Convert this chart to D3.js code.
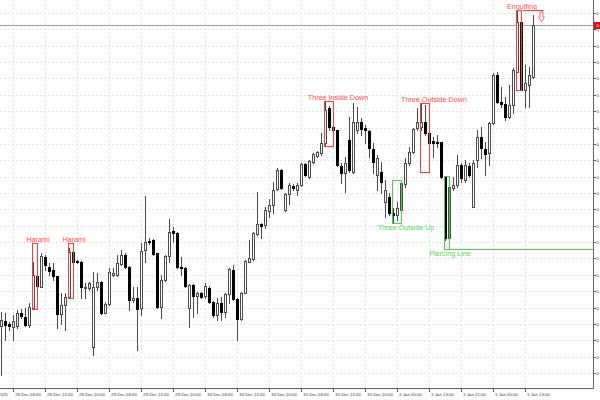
<!DOCTYPE html>
<html><head><meta charset="utf-8">
<script src="https://cdn.jsdelivr.net/npm/d3@7"></script>
<style>html,body{margin:0;padding:0;background:#fff;overflow:hidden}svg{display:block}</style>
</head><body>
<svg id="c" width="600" height="400"></svg>
<script>
// Trading sessions (day, first hour, last hour) -> hourly candle times
const sessions = [["26 Dec",1,23],["29 Dec",0,23],["30 Dec",0,23],["31 Dec",0,23],["2 Jan",1,23],["5 Jan",0,15]];

const open = [0.86074,0.86079,0.86076,0.86073,0.86074,0.86087,0.86083,0.86075,0.86092,0.86124,
0.86113,0.86143,0.86133,0.86130,0.86124,0.86086,0.86095,0.86103,0.86148,0.86139,
0.86138,0.86112,0.86112,0.86053,0.86113,0.86118,0.86087,0.86096,0.86125,0.86125,
0.86136,0.86145,0.86133,0.86100,0.86102,0.86092,0.86150,0.86159,0.86160,0.86147,
0.86093,0.86120,0.86144,0.86169,0.86167,0.86133,0.86132,0.86092,0.86115,0.86104,
0.86107,0.86104,0.86112,0.86098,0.86085,0.86097,0.86088,0.86106,0.86130,0.86101,
0.86081,0.86107,0.86138,0.86141,0.86166,0.86176,0.86175,0.86189,0.86195,0.86211,
0.86230,0.86190,0.86206,0.86214,0.86210,0.86215,0.86236,0.86223,0.86238,0.86244,
0.86247,0.86257,0.86292,0.86273,0.86270,0.86234,0.86227,0.86260,0.86228,0.86270,
0.86278,0.86272,0.86269,0.86251,0.86225,0.86228,0.86198,0.86203,0.86187,0.86185,
0.86190,0.86216,0.86237,0.86248,0.86272,0.86273,0.86278,0.86267,0.86259,0.86258,
0.86258,0.86223,0.86162,0.86212,0.86215,0.86235,0.86220,0.86234,0.86193,0.86240,
0.86263,0.86251,0.86247,0.86277,0.86325,0.86298,0.86296,0.86283,0.86295,0.86328,
0.86378,0.86310,0.86315,0.86323];

const high = [0.86088,0.86087,0.86078,0.86085,0.86090,0.86091,0.86092,0.86097,0.86138,0.86157,
0.86147,0.86145,0.86137,0.86137,0.86124,0.86107,0.86107,0.86152,0.86157,0.86140,
0.86139,0.86117,0.86118,0.86128,0.86127,0.86119,0.86098,0.86132,0.86132,0.86145,
0.86150,0.86147,0.86134,0.86113,0.86113,0.86157,0.86204,0.86162,0.86161,0.86147,
0.86125,0.86145,0.86181,0.86173,0.86168,0.86143,0.86133,0.86116,0.86116,0.86108,
0.86108,0.86117,0.86114,0.86099,0.86102,0.86103,0.86107,0.86132,0.86135,0.86102,
0.86108,0.86140,0.86160,0.86168,0.86208,0.86177,0.86193,0.86201,0.86218,0.86232,
0.86231,0.86207,0.86217,0.86216,0.86217,0.86237,0.86237,0.86240,0.86247,0.86249,
0.86267,0.86299,0.86294,0.86285,0.86270,0.86237,0.86243,0.86283,0.86297,0.86293,
0.86282,0.86275,0.86270,0.86257,0.86245,0.86238,0.86220,0.86207,0.86192,0.86198,
0.86220,0.86242,0.86253,0.86272,0.86292,0.86297,0.86295,0.86268,0.86263,0.86265,
0.86258,0.86224,0.86215,0.86223,0.86245,0.86237,0.86240,0.86237,0.86240,0.86270,
0.86273,0.86258,0.86278,0.86327,0.86328,0.86313,0.86303,0.86315,0.86332,0.86390,
0.86390,0.86335,0.86333,0.86385];

const low = [0.86025,0.86060,0.86070,0.86060,0.86072,0.86082,0.86074,0.86073,0.86091,0.86112,
0.86113,0.86130,0.86125,0.86120,0.86072,0.86076,0.86070,0.86102,0.86137,0.86137,
0.86102,0.86102,0.86110,0.86045,0.86110,0.86086,0.86087,0.86095,0.86124,0.86124,
0.86135,0.86132,0.86090,0.86098,0.86050,0.86085,0.86138,0.86156,0.86145,0.86092,
0.86082,0.86119,0.86138,0.86158,0.86132,0.86125,0.86113,0.86073,0.86083,0.86087,
0.86102,0.86102,0.86097,0.86083,0.86080,0.86080,0.86083,0.86097,0.86100,0.86060,
0.86080,0.86107,0.86138,0.86140,0.86165,0.86162,0.86172,0.86183,0.86187,0.86210,
0.86211,0.86189,0.86196,0.86210,0.86205,0.86214,0.86224,0.86222,0.86237,0.86243,
0.86245,0.86254,0.86270,0.86258,0.86234,0.86217,0.86208,0.86228,0.86227,0.86267,
0.86265,0.86257,0.86243,0.86227,0.86210,0.86207,0.86183,0.86185,0.86177,0.86180,
0.86188,0.86213,0.86235,0.86247,0.86270,0.86270,0.86265,0.86228,0.86243,0.86253,
0.86222,0.86160,0.86151,0.86210,0.86213,0.86218,0.86218,0.86223,0.86193,0.86233,
0.86242,0.86225,0.86235,0.86276,0.86297,0.86293,0.86280,0.86282,0.86287,0.86328,
0.86310,0.86293,0.86293,0.86322];

const close = [0.86080,0.86075,0.86074,0.86079,0.86087,0.86084,0.86075,0.86093,0.86125,0.86114,
0.86144,0.86135,0.86129,0.86124,0.86086,0.86095,0.86103,0.86148,0.86138,0.86138,
0.86113,0.86113,0.86117,0.86113,0.86118,0.86087,0.86096,0.86128,0.86127,0.86137,
0.86145,0.86133,0.86100,0.86102,0.86091,0.86149,0.86158,0.86158,0.86146,0.86093,
0.86120,0.86144,0.86168,0.86167,0.86133,0.86132,0.86114,0.86115,0.86104,0.86107,
0.86103,0.86114,0.86098,0.86085,0.86097,0.86088,0.86106,0.86131,0.86101,0.86081,
0.86107,0.86139,0.86142,0.86167,0.86176,0.86174,0.86190,0.86195,0.86210,0.86230,
0.86212,0.86206,0.86215,0.86212,0.86215,0.86236,0.86225,0.86239,0.86246,0.86248,
0.86257,0.86290,0.86273,0.86270,0.86235,0.86227,0.86237,0.86230,0.86278,0.86278,
0.86271,0.86270,0.86252,0.86238,0.86242,0.86218,0.86210,0.86187,0.86185,0.86192,
0.86217,0.86237,0.86248,0.86271,0.86278,0.86278,0.86267,0.86257,0.86257,0.86257,
0.86223,0.86162,0.86213,0.86215,0.86235,0.86222,0.86235,0.86225,0.86237,0.86263,
0.86252,0.86246,0.86277,0.86325,0.86298,0.86296,0.86283,0.86295,0.86330,0.86378,
0.86310,0.86317,0.86325,0.86375];

const timeTickLabels = ["24 Dec 2025","26 Dec 04:00","26 Dec 12:00","26 Dec 20:00","29 Dec 04:00","29 Dec 12:00","29 Dec 20:00","30 Dec 04:00","30 Dec 12:00","30 Dec 20:00","31 Dec 04:00","31 Dec 12:00","31 Dec 20:00","2 Jan 05:00","2 Jan 13:00","2 Jan 21:00","5 Jan 05:00","5 Jan 13:00"];
const leadingTickIndex = -5;   // "24 Dec 2025" lies before the first visible bar
const priceTicks = [0.86387,0.86371,0.86354,0.86338,0.86322,0.86305,0.86289,0.86272,0.86256,0.86240,0.86223,0.86207,0.86191,0.86174,0.86158,0.86142,0.86125,0.86109,0.86092,0.86076,0.86060,0.86043,0.86027];
const currentPrice = 0.86375;
const supportPrice = 0.86151;

const patternNames = ["Harami","Harami","Three Inside Down","Three Outside Up","Three Outside Down","Piercing Line","Engulfing"];
const patternFrom  = [8,17,81,98,105,111,129];
const patternTo    = [9,18,83,100,107,112,130];
const patternBull  = [false,false,false,true,false,true,false];

// ---------------------------------------------------------------
const times = [];
sessions.forEach(([d,h0,h1]) => { for (let h=h0; h<=h1; h++) times.push(d+" "+String(h).padStart(2,"0")+":00"); });
const candles = times.map((t,i)=>({t,i,o:open[i],h:high[i],l:low[i],c:close[i]}));

const right=593, bottom=388;
const svg = d3.select("#c");
const x = d3.scaleLinear().domain([0,148]).range([1,593]);
const y = d3.scaleLinear().domain([0.86,0.864]).range([400,0]);

const tickIdx = timeTickLabels.map(l => times.indexOf(l) >= 0 ? times.indexOf(l) : leadingTickIndex);

const RED="#ff3a3a", REDTXT="#ff4a4a", GREEN="#4ccc4c", GREENTXT="#5fcf5f";
const FONT="'Liberation Sans', Arial, sans-serif";

// grid
const grid = svg.append("g").attr("stroke","#e3e3e3").attr("stroke-dasharray","2,2").attr("stroke-width",1);
grid.selectAll("line.v").data(tickIdx).join("line")
  .attr("x1",d=>x(d)+0.5).attr("x2",d=>x(d)+0.5).attr("y1",0).attr("y2",bottom);
grid.selectAll("line.h").data(priceTicks).join("line")
  .attr("x1",0).attr("x2",right).attr("y1",d=>Math.round(y(d))+0.5).attr("y2",d=>Math.round(y(d))+0.5);

// current price line
svg.append("line").attr("x1",0).attr("x2",right)
  .attr("y1",Math.round(y(currentPrice))+0.5).attr("y2",Math.round(y(currentPrice))+0.5)
  .attr("stroke","#c98c8c").attr("stroke-width",1);

// support line from piercing line low
svg.append("line").attr("x1",x(patternTo[5])+0.5).attr("x2",right)
  .attr("y1",Math.round(y(supportPrice))+0.5).attr("y2",Math.round(y(supportPrice))+0.5)
  .attr("stroke",GREEN).attr("stroke-width",1);

// candles
const cg = svg.append("g");
cg.selectAll("line.w").data(candles).join("line")
  .attr("x1",d=>x(d.i)+0.5).attr("x2",d=>x(d.i)+0.5)
  .attr("y1",d=>Math.round(y(d.h))).attr("y2",d=>Math.round(y(d.l))+1)
  .attr("stroke","#4a4a4a").attr("stroke-width",1);
cg.selectAll("rect.b").data(candles.filter(d=>d.c<d.o)).join("rect")
  .attr("x",d=>x(d.i)-1).attr("width",3)
  .attr("y",d=>Math.round(y(d.o))).attr("height",d=>Math.max(1,Math.round(y(d.c))-Math.round(y(d.o))+1))
  .attr("fill","#000");
cg.selectAll("rect.u").data(candles.filter(d=>d.c>=d.o)).join("rect")
  .attr("x",d=>x(d.i)-0.5).attr("width",2)
  .attr("y",d=>Math.round(y(d.c))+0.5).attr("height",d=>Math.max(0,Math.round(y(d.o))-Math.round(y(d.c))))
  .attr("fill","#fff").attr("stroke","#4a4a4a").attr("stroke-width",1);

// pattern boxes + labels
const pats = patternNames.map((n,k)=>{
  const seg = candles.slice(patternFrom[k], patternTo[k]+1);
  return {n, from:patternFrom[k], to:patternTo[k], bull:patternBull[k],
    top:d3.max(seg,d=>d.h), bot:d3.min(seg,d=>d.l)};
});
const pg = svg.append("g");
pg.selectAll("rect").data(pats).join("rect")
  .attr("x",d=>x(d.from)-0.5).attr("width",d=>x(d.to)-x(d.from)+1)
  .attr("y",d=>Math.round(y(d.top))+0.5).attr("height",d=>Math.round(y(d.bot))-Math.round(y(d.top)))
  .attr("fill","none").attr("stroke",d=>d.bull?GREEN:RED).attr("stroke-width",1);
pg.selectAll("text").data(pats).join("text")
  .attr("x",d=>x(d.to)+1+4*(d.to-d.from-1))
  .attr("y",d=>d.bull? y(d.bot)+7 : y(d.top)-1.5)
  .attr("text-anchor","middle").attr("font-family",FONT).attr("font-size",7.2)
  .attr("fill",d=>d.bull?GREENTXT:REDTXT).text(d=>d.n);

// engulfing signal arrow and marker line
const eng = pats[6];
const ax = x(135)+0.5, ay = Math.round(y(eng.top))+2;
svg.append("line").attr("x1",x(eng.to)+2).attr("x2",x(135)+2.5)
  .attr("y1",Math.round(y(eng.top))+0.5).attr("y2",Math.round(y(eng.top))+0.5)
  .attr("stroke",RED).attr("stroke-width",1);
svg.append("path")
  .attr("d",`M${ax-1.5},${ay}H${ax+1.5}V${ay+5}H${ax+3}L${ax},${ay+10}L${ax-3},${ay+5}H${ax-1.5}Z`)
  .attr("fill","#fff").attr("stroke","#ff6a6a").attr("stroke-width",1);

// axes
const xAxis = d3.axisBottom(x).tickValues(tickIdx).tickFormat((d,i)=>timeTickLabels[i]).tickSize(4).tickPadding(0);
const gx = svg.append("g").attr("transform",`translate(0,${bottom})`).call(xAxis);
gx.select(".domain").remove();
gx.selectAll(".tick line").attr("stroke","#555");
gx.selectAll(".tick text").attr("text-anchor","start").attr("x",1.8).attr("y",8.3).attr("dy",null)
  .attr("font-family",FONT).attr("font-size",4.3).attr("fill","#333");

const yAxis = d3.axisRight(y).tickValues(priceTicks).tickFormat(d3.format(".5f")).tickSize(3).tickPadding(0.6);
const gy = svg.append("g").attr("transform",`translate(${right},0)`).call(yAxis);
gy.select(".domain").remove();
gy.selectAll(".tick").attr("transform",d=>`translate(0,${Math.round(y(d))+0.5})`);
gy.selectAll(".tick line").attr("stroke","#555").attr("y1",0).attr("y2",0);
gy.selectAll(".tick text").attr("font-family",FONT).attr("font-size",4.3).attr("fill","#333").attr("dy","0.35em");

// frame lines
svg.append("line").attr("x1",0).attr("x2",right+1).attr("y1",bottom+0.5).attr("y2",bottom+0.5).attr("stroke","#666");
svg.append("line").attr("x1",right+0.5).attr("x2",right+0.5).attr("y1",0).attr("y2",bottom+1).attr("stroke","#666");

// current price tag
const cy = Math.round(y(currentPrice));
svg.append("rect").attr("x",right+1).attr("y",cy-3).attr("width",10).attr("height",7).attr("fill","#d40f0f");
svg.append("text").attr("x",right+3.6).attr("y",cy+0.5).attr("dy","0.35em").attr("font-family",FONT)
  .attr("font-size",4.3).attr("fill","#fff").text(d3.format(".5f")(currentPrice));
</script>
</body></html>
